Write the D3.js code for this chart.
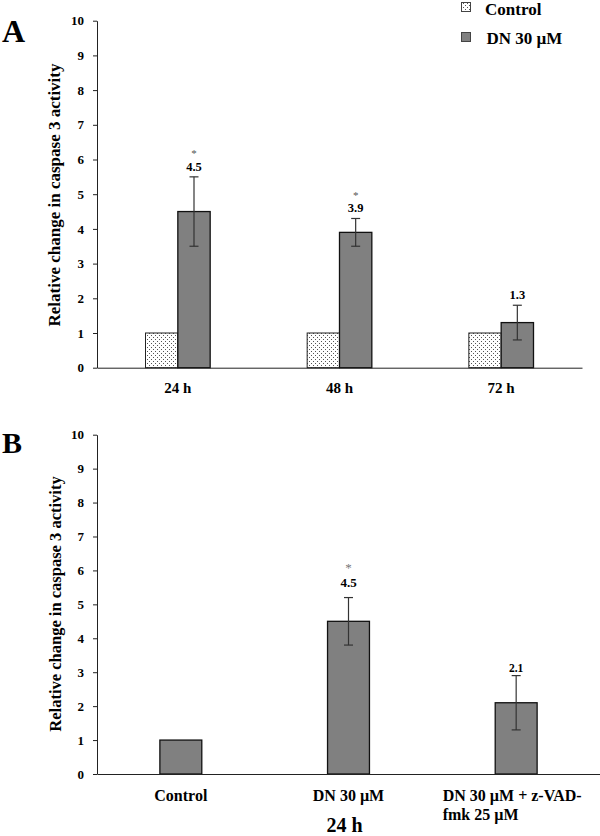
<!DOCTYPE html>
<html><head><meta charset="utf-8">
<script src="https://cdnjs.cloudflare.com/ajax/libs/d3/7.8.5/d3.min.js"></script>
<style>body{margin:0;background:#fff} svg{display:block;font-family:"Liberation Serif","Times New Roman",serif}</style>
</head><body><svg id="c" width="600" height="836"></svg>
<script>
// ---- data ----
const timepoints = ["24 h", "48 h", "72 h"];
const seriesNames = ["Control", "DN 30 µM"];
const controlA = [1, 1, 1];
const dnA = [4.5, 3.9, 1.3];
const dnErrA = [1.0, 0.4, 0.5];
const sigA = [true, true, false];
const treatmentsB = ["Control", "DN 30 µM", "DN 30 µM + z-VAD-fmk 25 µM"];
const valuesB = [1, 4.5, 2.1];
const errB = [0, 0.7, 0.8];
const sigB = [false, true, false];
const yTicks = [0, 1, 2, 3, 4, 5, 6, 7, 8, 9, 10];
const yTitle = "Relative change in caspase 3 activity";

const svg = d3.select("#c");
const defs = svg.append("defs");
const pat = defs.append("pattern").attr("id", "dots").attr("patternUnits", "userSpaceOnUse")
  .attr("width", 4).attr("height", 4);
pat.append("rect").attr("width", 4).attr("height", 4).attr("fill", "#fff");
pat.append("rect").attr("x", 1).attr("y", 1).attr("width", 1).attr("height", 1).attr("fill", "#555");
pat.append("rect").attr("x", 3).attr("y", 3).attr("width", 1).attr("height", 1).attr("fill", "#555");

const gray = "#808080";

function yAxis(g, y) {
  g.call(d3.axisLeft(y).tickValues(yTicks).tickSize(4).tickSizeOuter(0).tickPadding(9).tickFormat(d3.format("d")));
  g.selectAll("text").attr("font-size", 13).attr("font-weight", "bold").attr("fill", "#000")
    .attr("font-family", "'Liberation Serif',serif");
  g.selectAll("line").attr("stroke", "#222");
  g.select(".domain").attr("stroke", "#222");
}

function errBar(g, x, y, v, e, cap) {
  g.append("line").attr("x1", x).attr("x2", x).attr("y1", y(v - e)).attr("y2", y(v + e)).attr("stroke", "#333").attr("stroke-width", 1.2);
  [v - e, v + e].forEach(t => g.append("line").attr("x1", x - cap / 2).attr("x2", x + cap / 2)
    .attr("y1", y(t)).attr("y2", y(t)).attr("stroke", "#333").attr("stroke-width", 1.2));
}

// ---- Panel A ----
{
  const x = d3.scaleBand().domain(timepoints).range([97, 582]).paddingInner(0.6).paddingOuter(0.3);
  const xs = d3.scaleBand().domain(seriesNames).range([0, x.bandwidth()]);
  const y = d3.scaleLinear().domain([0, 10]).range([367.7, 20.7]);
  const g = svg.append("g");

  g.append("text").attr("x", 2).attr("y", 42).attr("font-size", 32).attr("font-weight", "bold").text("A");

  const bars = g.append("g");
  timepoints.forEach((t, i) => {
    bars.append("rect").attr("x", x(t) + xs("Control")).attr("y", y(controlA[i]))
      .attr("width", xs.bandwidth()).attr("height", y(0) - y(controlA[i]))
      .attr("fill", "url(#dots)").attr("stroke", "#222").attr("stroke-width", 1);
    bars.append("rect").attr("x", x(t) + xs("DN 30 µM")).attr("y", y(dnA[i]))
      .attr("width", xs.bandwidth()).attr("height", y(0) - y(dnA[i]))
      .attr("fill", gray).attr("stroke", "#111").attr("stroke-width", 1.3);
    const cx = x(t) + xs("DN 30 µM") + xs.bandwidth() / 2;
    errBar(g, cx, y, dnA[i], dnErrA[i], 9);
    const nb = y(dnA[i] + dnErrA[i]) - 6;
    g.append("text").attr("x", cx).attr("y", nb).attr("text-anchor", "middle")
      .attr("font-size", 12.5).attr("font-weight", "bold").text(d3.format(".1f")(dnA[i]));
    if (sigA[i]) g.append("text").attr("x", cx).attr("y", nb - 13.5).attr("text-anchor", "middle")
      .attr("font-size", 11).attr("fill", "#555").text("*");
  });

  const ya = g.append("g").attr("transform", "translate(97,0)");
  yAxis(ya, y);
  const xa = g.append("g").attr("transform", `translate(0,${y(0)})`)
    .call(d3.axisBottom(x).tickSize(0).tickSizeOuter(0).tickPadding(15));
  xa.select(".domain").attr("stroke", "#222");
  xa.selectAll("text").attr("font-size", 15).attr("font-weight", "bold").attr("fill", "#000")
    .attr("font-family", "'Liberation Serif',serif");

  g.append("text").attr("transform", "translate(60,195) rotate(-90)").attr("text-anchor", "middle")
    .attr("font-size", 17).attr("font-weight", "bold").text(yTitle);

  // legend
  const lg = g.append("g");
  seriesNames.forEach((s, i) => {
    const yy = [2, 32][i];
    lg.append("rect").attr("x", 461.5).attr("y", yy + 0.5).attr("width", 9).attr("height", 9)
      .attr("fill", i === 0 ? "url(#dots)" : gray).attr("stroke", "#444");
    lg.append("text").attr("x", 485 + i * 1.5).attr("y", [15, 44][i]).attr("font-size", 17)
      .attr("font-weight", "bold").text(s);
  });
}

// ---- Panel B ----
{
  const x = d3.scaleBand().domain(treatmentsB).range([97, 600]).paddingInner(0.75).paddingOuter(0.375);
  const y = d3.scaleLinear().domain([0, 10]).range([774, 434.7]);
  const g = svg.append("g");

  g.append("text").attr("x", 2).attr("y", 453).attr("font-size", 30).attr("font-weight", "bold").text("B");

  treatmentsB.forEach((t, i) => {
    g.append("rect").attr("x", x(t)).attr("y", y(valuesB[i])).attr("width", x.bandwidth())
      .attr("height", y(0) - y(valuesB[i])).attr("fill", gray).attr("stroke", "#111").attr("stroke-width", 1.3);
    const cx = x(t) + x.bandwidth() / 2;
    if (errB[i] > 0) {
      errBar(g, cx, y, valuesB[i], errB[i], 9);
      const nb = y(valuesB[i] + errB[i]) - (sigB[i] ? 11 : 3.5);
      g.append("text").attr("x", cx).attr("y", nb).attr("text-anchor", "middle")
        .attr("font-size", sigB[i] ? 13 : 11.5).attr("font-weight", "bold").text(d3.format(".1f")(valuesB[i]));
      if (sigB[i]) g.append("text").attr("x", cx).attr("y", nb - 15).attr("text-anchor", "middle")
        .attr("font-size", 13).attr("fill", "#777").text("*");
    }
  });

  const ya = g.append("g").attr("transform", "translate(97,0)");
  yAxis(ya, y);
  const xa = g.append("g").attr("transform", `translate(0,${y(0)})`)
    .call(d3.axisBottom(x).tickSize(0).tickSizeOuter(0).tickPadding(16));
  xa.select(".domain").attr("stroke", "#222");
  xa.selectAll("text").attr("font-size", 16).attr("font-weight", "bold").attr("fill", "#000")
    .attr("font-family", "'Liberation Serif',serif")
    .each(function (d) {
      if (d === treatmentsB[2]) {
        const t = d3.select(this).text("").attr("text-anchor", "start").attr("x", 442.7 - x(d) - x.bandwidth() / 2);
        t.append("tspan").text("DN 30 µM + z-VAD-");
        t.append("tspan").attr("x", 442.7 - x(d) - x.bandwidth() / 2).attr("dy", 19).text("fmk 25 µM");
      }
    });

  g.append("text").attr("transform", "translate(61,604) rotate(-90)").attr("text-anchor", "middle")
    .attr("font-size", 16.5).attr("font-weight", "bold").text(yTitle);

  g.append("text").attr("x", x(treatmentsB[1]) + x.bandwidth() / 2 - 4).attr("y", 832).attr("text-anchor", "middle")
    .attr("font-size", 20).attr("font-weight", "bold").text("24 h");
}
</script></body></html>
